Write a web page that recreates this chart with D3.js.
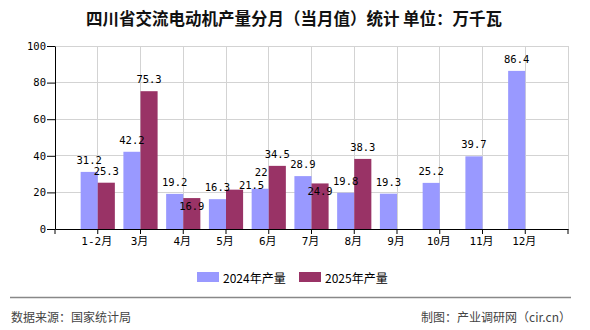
<!DOCTYPE html>
<html><head><meta charset="utf-8">
<script src="https://cdn.jsdelivr.net/npm/d3@7"></script>
<style>
html,body{margin:0;padding:0;background:#fff;}
svg{display:block;}
</style></head>
<body>
<svg id="chart" width="590" height="330"></svg>
<script>
// ---- data ----
const categories = ["1-2月","3月","4月","5月","6月","7月","8月","9月","10月","11月","12月"];
const values2024 = [31.2, 42.2, 19.2, 16.3, 22, 28.9, 19.8, 19.3, 25.2, 39.7, 86.4];
const values2025 = [25.3, 75.3, 16.9, 21.5, 34.5, 24.9, 38.3, null, null, null, null];
const seriesNames = ["2024年产量", "2025年产量"];
const yTicks = [0, 20, 40, 60, 80, 100];
const titleText = "四川省交流电动机产量分月（当月值）统计 单位：万千瓦";
const sourceText = "数据来源：国家统计局";
const creditText = "制图：产业调研网（cir.cn）";

// ---- style / layout ----
const colors = ["#9999ff", "#993366"];
const numFont = "'DejaVu Sans Mono','Liberation Mono','Noto Sans CJK SC',monospace";
const cjkFont = "'Noto Sans CJK SC','Noto Sans',sans-serif";
// label nudges for overlapping labels (series index, category index) -> [dx, dy]
const labelNudge = {"1-2": [0, 20], "1-3": [17, 7], "1-5": [0, 20], "0-4": [1, -5]};

const svg = d3.select("#chart");
const pLeft = 55, pRight = 568, pTop = 46, pBottom = 229;

const x = d3.scaleBand().domain(categories).range([pLeft, pRight]).paddingInner(0).paddingOuter(0.5);
const y = d3.scaleLinear().domain([0, 100]).range([pBottom, pTop]);
const bw = x.bandwidth();
const barW = bw * 0.4;
const cx = c => x(c) + bw / 2;

// title
svg.append("text").attr("x", 294).attr("y", 18).attr("text-anchor", "middle")
  .attr("dominant-baseline", "central").attr("font-family", cjkFont)
  .attr("font-size", 16.5).attr("font-weight", 600).attr("fill", "#111").text(titleText);

// grid
const grid = svg.append("g").attr("stroke", "#d3d3d3").attr("stroke-width", 1).attr("shape-rendering", "crispEdges");
yTicks.filter(t => t > 0).forEach(t => {
  grid.append("line").attr("x1", pLeft).attr("x2", pRight).attr("y1", y(t)).attr("y2", y(t));
});
categories.forEach(c => {
  grid.append("line").attr("x1", cx(c)).attr("x2", cx(c)).attr("y1", pTop).attr("y2", pBottom);
});
grid.append("line").attr("x1", pRight).attr("x2", pRight).attr("y1", pTop).attr("y2", pBottom);

// bars
const seriesData = [values2024, values2025];
seriesData.forEach((vals, si) => {
  svg.append("g").selectAll("rect")
    .data(categories.map((c, i) => ({c, v: vals[i]})).filter(d => d.v != null))
    .join("rect")
    .attr("x", d => si === 0 ? cx(d.c) - barW : cx(d.c))
    .attr("y", d => y(d.v))
    .attr("width", barW)
    .attr("height", d => y(0) - y(d.v))
    .attr("fill", colors[si]);
});

// axes
const yAxis = svg.append("g").attr("transform", `translate(${pLeft},0)`)
  .call(d3.axisLeft(y).tickValues(yTicks).tickSize(8).tickSizeOuter(0).tickPadding(1));
yAxis.select(".domain").attr("stroke", "#000");
yAxis.selectAll(".tick line").attr("stroke", "#000");
yAxis.selectAll("text").attr("font-family", numFont).attr("font-size", 10.5).attr("fill", "#000");

const xAxis = svg.append("g").attr("transform", `translate(0,${pBottom})`)
  .call(d3.axisBottom(x).tickSize(5).tickSizeOuter(0).tickPadding(3));
xAxis.select(".domain").attr("stroke", "#000");
xAxis.selectAll(".tick line").attr("stroke", "#000");
xAxis.selectAll("text").attr("font-family", numFont).attr("font-size", 11).attr("fill", "#000")
  .attr("dx", -1);
[pLeft, pRight].forEach(px => {
  xAxis.append("line").attr("x1", px).attr("x2", px).attr("y1", 0).attr("y2", 5).attr("stroke", "#000");
});

// value labels
seriesData.forEach((vals, si) => {
  svg.append("g").selectAll("text")
    .data(categories.map((c, i) => ({c, i, v: vals[i]})).filter(d => d.v != null))
    .join("text")
    .attr("x", d => (si === 0 ? cx(d.c) - barW / 2 : cx(d.c) + barW / 2) + ((labelNudge[si + "-" + d.i] || [0, 0])[0]))
    .attr("y", d => y(d.v) - 12 + ((labelNudge[si + "-" + d.i] || [0, 0])[1]))
    .attr("text-anchor", "middle").attr("dominant-baseline", "central")
    .attr("font-family", numFont).attr("font-size", 10.5).attr("fill", "#000")
    .text(d => d.v);
});

// legend
const legendX = [197, 299];
seriesNames.forEach((n, i) => {
  svg.append("rect").attr("x", legendX[i]).attr("y", 272).attr("width", 22).attr("height", 10).attr("fill", colors[i]);
  svg.append("text").attr("x", legendX[i] + 26).attr("y", 277.5).attr("dominant-baseline", "central")
    .attr("font-family", cjkFont).attr("font-size", 12).attr("fill", "#000").text(n);
});

// footer
svg.append("line").attr("x1", 10).attr("x2", 571).attr("y1", 297.5).attr("y2", 297.5)
  .attr("stroke", "#888").attr("stroke-width", 1.5);
svg.append("text").attr("x", 11).attr("y", 316).attr("dominant-baseline", "central")
  .attr("font-family", cjkFont).attr("font-size", 12).attr("fill", "#444").text(sourceText);
svg.append("text").attr("x", 571).attr("y", 316).attr("text-anchor", "end").attr("dominant-baseline", "central")
  .attr("font-family", cjkFont).attr("font-size", 12).attr("fill", "#444").text(creditText);
</script>
</body></html>
